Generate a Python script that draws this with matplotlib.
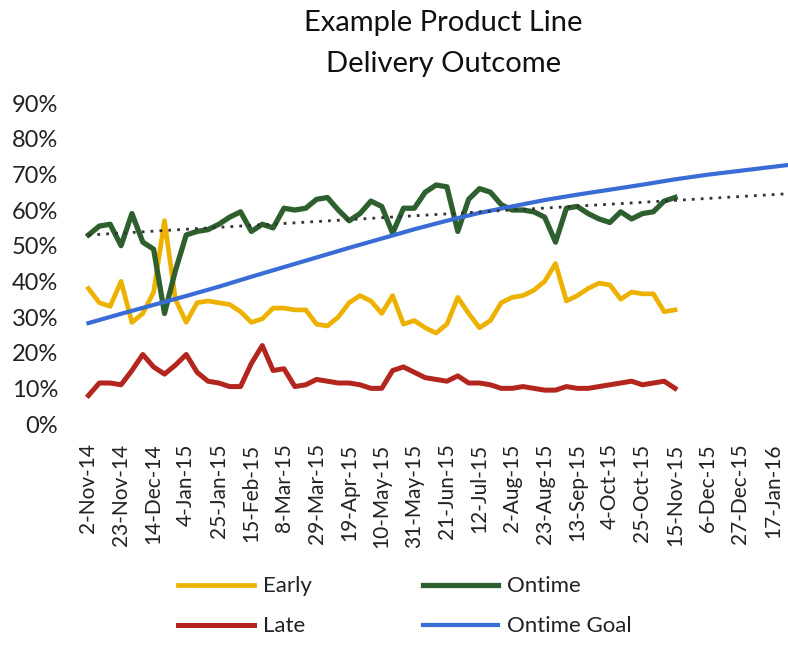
import numpy as np
import matplotlib.pyplot as plt
from matplotlib.ticker import PercentFormatter

plt.rcParams['font.family'] = ['Lato', 'DejaVu Sans']

# weekly delivery outcome, % of orders (week 0 = 2-Nov-14)
ontime = [53, 55.5, 56, 50, 59, 51, 49, 31, 43, 53,
          54, 54.5, 56, 58, 59.5, 54, 56, 55, 60.5, 60,
          60.5, 63, 63.5, 60, 57, 59, 62.5, 61, 53.5, 60.5,
          60.5, 65, 67, 66.5, 54, 63, 66, 65, 61.5, 60,
          60, 59.5, 58, 51, 60.5, 61, 59, 57.5, 56.5, 59.5,
          57.5, 59, 59.5, 62.5, 63.5]
early = [38, 34, 33, 40, 28.5, 31, 37, 57, 35, 28.5,
         34, 34.5, 34, 33.5, 31.5, 28.5, 29.5, 32.5, 32.5, 32,
         32, 28, 27.5, 30, 34, 36, 34.5, 31, 36, 28,
         29, 27, 25.5, 28, 35.5, 31, 27, 29, 34, 35.5,
         36, 37.5, 40, 45, 34.5, 36, 38, 39.5, 39, 35,
         37, 36.5, 36.5, 31.5, 32]
late = [8, 11.5, 11.5, 11, 15, 19.5, 16, 14, 16.5, 19.5,
        14.5, 12, 11.5, 10.5, 10.5, 17, 22, 15, 15.5, 10.5,
        11, 12.5, 12, 11.5, 11.5, 11, 10, 10, 15, 16,
        14.5, 13, 12.5, 12, 13.5, 11.5, 11.5, 11, 10, 10,
        10.5, 10, 9.5, 9.5, 10.5, 10, 10, 10.5, 11, 11.5,
        12, 11, 11.5, 12, 10]

# ontime goal, set every third week
goal_weeks = list(range(0, 67, 3))
goal = [28.3, 30.9, 33.4, 35.9, 38.5, 41.3, 44.0, 46.7, 49.4, 52.0, 54.6, 57.0,
        59.2, 61.0, 62.8, 64.3, 65.7, 67.1, 68.6, 69.9, 71.0, 72.1, 73.2]

tick_labels = ['2-Nov-14', '23-Nov-14', '14-Dec-14', '4-Jan-15', '25-Jan-15',
               '15-Feb-15', '8-Mar-15', '29-Mar-15', '19-Apr-15', '10-May-15',
               '31-May-15', '21-Jun-15', '12-Jul-15', '2-Aug-15', '23-Aug-15',
               '13-Sep-15', '4-Oct-15', '25-Oct-15', '15-Nov-15', '6-Dec-15',
               '27-Dec-15', '17-Jan-16']

weeks = np.arange(len(ontime))

fig = plt.figure(figsize=(7.88, 6.45), dpi=100)
ax = fig.add_axes([0.104, 0.3426, 0.896, 0.4977])

ax.plot(weeks, early, color='#EDB200', lw=3.4, label='Early', solid_joinstyle='round')
ax.plot(weeks, late, color='#B3261E', lw=3.6, label='Late', solid_joinstyle='round')
ax.plot(weeks, ontime, color='#2D602E', lw=3.8, label='Ontime', solid_joinstyle='round')
ax.plot(goal_weeks, goal, color='#3A6CD6', lw=3.0, label='Ontime Goal')

# linear trend of the ontime series, carried out to the end of the axis
xt = np.linspace(0, 65, 100)
slope, icpt = np.polyfit(weeks, ontime, 1)
ax.plot(xt, slope * xt + icpt, color='#333333', lw=2.0, ls=(0, (1, 2.2)))

ax.set_xlim(-0.6, 64.4)
ax.set_ylim(0, 90)
ax.set_yticks(range(0, 91, 10))
ax.yaxis.set_major_formatter(PercentFormatter(decimals=0))
ax.set_xticks(range(0, 64, 3))
ax.set_xticklabels(tick_labels, rotation=90)
ax.tick_params(axis='both', length=0, colors='#222222')
ax.tick_params(axis='y', labelsize=17, pad=17)
ax.tick_params(axis='x', labelsize=15, pad=14)
for s in ax.spines.values():
    s.set_visible(False)

fig.text(0.563, 0.985, 'Example Product Line\nDelivery Outcome', ha='center', va='top',
         fontsize=21, linespacing=1.75, color='#111111')

handles, labels = ax.get_legend_handles_labels()
fig.legend(handles, labels, ncol=2, loc='center', bbox_to_anchor=(0.514, 0.06),
           frameon=False, fontsize=16, handlelength=3.4, columnspacing=5.0,
           labelspacing=0.9, handletextpad=0.4, labelcolor='#222222')

fig.savefig('out.png', dpi=100)
